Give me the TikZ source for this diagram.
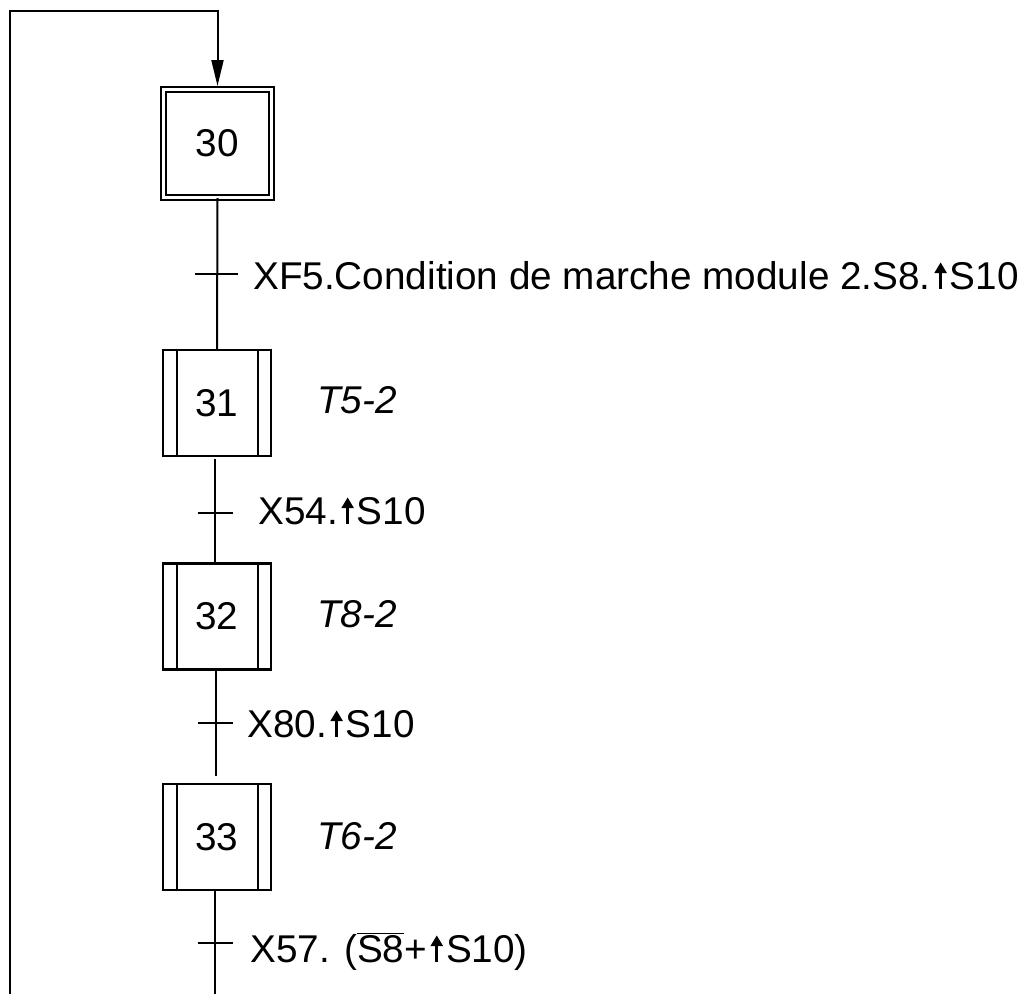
\documentclass[tikz,border=0pt]{standalone}
\usepackage{fontspec}
\setmainfont{Liberation Sans}
\usetikzlibrary{arrows.meta}
\newcommand{\riseup}{\kern3.5pt\tikz[baseline=0pt,x=1pt,y=1pt]{%
  \fill[black] (-1.6,0) rectangle (1.6,17);
  \fill[black] (-6.3,16) -- (6.3,16) -- (0,26.5) -- cycle;}\kern3pt}
\tikzset{
  conn/.style={line width=2pt, draw=black},
  stepbox/.style={draw=black, line width=2.3pt, minimum width=108pt, minimum height=106pt, inner sep=0pt, outer sep=0pt, font=\fontsize{38.7}{41}\selectfont},
  initbox/.style={draw=black, line width=2.1pt, double, double distance=2.9pt, minimum width=108pt, minimum height=108pt, inner sep=0pt, outer sep=0pt, font=\fontsize{38.7}{41}\selectfont},
  lbl/.style={inner sep=0pt, anchor=base west, font=\fontsize{38.7}{41}\selectfont},
  act/.style={inner sep=0pt, anchor=base west, font=\fontsize{38.7}{41}\selectfont\itshape},
}
\begin{document}
\begin{tikzpicture}[x=1pt,y=-1pt]
\useasboundingbox (0,0) rectangle (1026,994);
% steps
\node[initbox] (s30) at (217.5,143.5) {30};
\node[stepbox] (s31) at (217,403) {31};
\node[stepbox] (s32) at (217,616.5) {32};
\node[stepbox] (s33) at (217,837) {33};
\foreach \s in {s31,s32,s33}{
  \draw[line width=2pt] ([xshift=14pt]\s.north west) -- ([xshift=14pt]\s.south west);
  \draw[line width=2pt] ([xshift=-13pt]\s.north east) -- ([xshift=-13pt]\s.south east);
}
% actions
\node[act] (a31) at (317,413) {T5-2};
\node[act] (a32) at (317,627) {T8-2};
\node[act] (a33) at (317,849) {T6-2};
% transition coordinates
\coordinate (t1) at (216.5,274);
\coordinate (t2) at (215,513);
\coordinate (t3) at (215.5,723);
\coordinate (t4) at (215,943);
% links
\draw[conn] (s30.south |- 0,198) -- (s31.north);
\draw[conn] ([yshift=-3pt]s31.south -| t2) -- (s32.north -| t2);
\draw[conn] (s32.south -| t3) -- ([yshift=8pt]s33.north -| t3);
\coordinate (bR) at (215,994);
\draw[conn] (s33.south -| t4) -- (bR);
% loop back
\coordinate (bL) at (9.5,994);
\coordinate (corner) at (217.5,11);
\draw[conn, -{Triangle[length=26pt,width=12pt]}] (bL) |- (corner) -- ([yshift=3.5pt]s30.north);
% ticks
\draw[conn] ([xshift=-21.5pt]t1) -- ([xshift=21.5pt]t1);
\foreach \t in {t2,t3,t4}{
  \draw[conn] ([xshift=-17.5pt]\t) -- ([xshift=17.5pt]\t);
}
% receptivities
\node[lbl] (r1) at (253,289) {XF5.Condition de marche module 2.S8.\riseup S10};
\node[lbl] (r2) at (258,524) {X54.\riseup S10};
\node[lbl] (r3) at (247,737) {X80.\riseup S10};
\node[lbl] (r4) at (250,962) {X57. ($\overline{\mbox{S8}}$+\riseup S10)};
\end{tikzpicture}
\end{document}
